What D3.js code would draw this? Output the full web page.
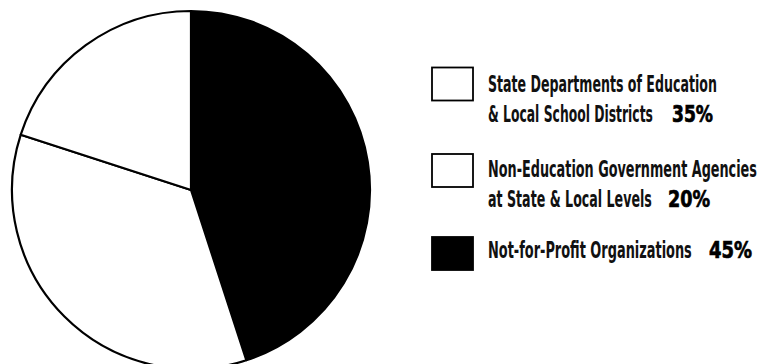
<!DOCTYPE html>
<html>
<head>
<meta charset="utf-8">
<script src="https://cdn.jsdelivr.net/npm/d3@7/dist/d3.min.js"></script>
<style>
  html, body { margin: 0; padding: 0; background: #fff; }
  svg { display: block; }
</style>
</head>
<body>
<svg id="chart" width="760" height="364"></svg>
<script>
// Funding sources, in pie order (clockwise from 12 o'clock)
const categories = [
  "Not-for-Profit Organizations",
  "State Departments of Education & Local School Districts",
  "Non-Education Government Agencies at State & Local Levels"
];
const values = [45, 35, 20];
const fills = ["#000000", "#ffffff", "#ffffff"];

// Legend entries: which category, how its label wraps, and the text widths
const legendOrder = [1, 2, 0];
const legendLines = [
  ["State Departments of Education", "& Local School Districts"],
  ["Non-Education Government Agencies", "at State & Local Levels"],
  ["Not-for-Profit Organizations"]
];
const legendLineWidths = [[229, 165], [269, 164], [204]];
const percentLabels = values.map(v => v + "%");

const svg = d3.select("#chart");

// ---- Pie ----
const cx = 191, cy = 190, radius = 179;
const pie = d3.pie().sort(null).value(d => d.value).startAngle(0).endAngle(2 * Math.PI);
const arc = d3.arc().innerRadius(0).outerRadius(radius);
const pieData = pie(categories.map((c, i) => ({ name: c, value: values[i], fill: fills[i] })));

const g = svg.append("g").attr("transform", `translate(${cx},${cy})`);
g.selectAll("path")
  .data(pieData)
  .join("path")
  .attr("d", arc)
  .attr("fill", d => d.data.fill)
  .attr("stroke", "#000")
  .attr("stroke-width", 2.2)
  .attr("stroke-linejoin", "round");

// ---- Legend ----
const font = "'DejaVu Sans Condensed', 'DejaVu Sans', sans-serif";
const boxX = 432, boxW = 41, boxH = 33;
const boxTops = [67.5, 154, 237];
const firstBaselines = [92, 177, 258];
const lineGap = 30;
const textX = 488;
const pctX = [672, 668, 709];
const pctW = [41, 42, 43];

// Draw a text and squeeze it horizontally to a given width (condensed face)
function fittedText(parent, str, x, y, width, opts) {
  const t = parent.append("text")
    .attr("font-family", font)
    .attr("font-weight", "bold")
    .attr("font-size", opts.size)
    .attr("fill", opts.fill)
    .text(str);
  if (opts.stroke) t.attr("stroke", opts.stroke).attr("stroke-width", opts.strokeWidth);
  const natural = t.node().getComputedTextLength();
  const sx = width / natural;
  t.attr("transform", `translate(${x},${y}) scale(${sx},1)`);
  return t;
}

const legend = svg.append("g");
legendOrder.forEach((ci, k) => {
  const item = legend.append("g");
  item.append("rect")
    .attr("x", boxX).attr("y", boxTops[k])
    .attr("width", boxW).attr("height", boxH)
    .attr("fill", fills[ci])
    .attr("stroke", "#000")
    .attr("stroke-width", 1.8);

  legendLines[k].forEach((line, j) => {
    fittedText(item, line, textX, firstBaselines[k] + j * lineGap,
      legendLineWidths[k][j], { size: 23, fill: "#111" });
  });

  const lastLine = legendLines[k].length - 1;
  fittedText(item, percentLabels[ci], pctX[k], firstBaselines[k] + lastLine * lineGap,
    pctW[k], { size: 23.5, fill: "#000", stroke: "#000", strokeWidth: 0.7 });
});
</script>
</body>
</html>
